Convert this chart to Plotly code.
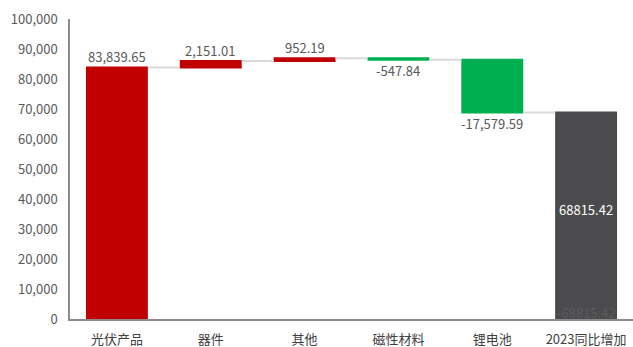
import plotly.graph_objects as go

categories = ["光伏产品", "器件", "其他", "磁性材料", "锂电池", "2023同比增加"]
values = [83839.65, 2151.01, 952.19, -547.84, -17579.59, 68815.42]
measures = ["relative", "relative", "relative", "relative", "relative", "total"]
y_ticks = [0, 10000, 20000, 30000, 40000, 50000, 60000, 70000, 80000, 90000, 100000]

RED = "#C00000"
GREEN = "#00B050"
DARK = "#4B4B4D"
FONT = "Noto Sans CJK SC, Noto Sans, sans-serif"

total_label = f"{values[-1]:.2f}"

fig = go.Figure(
    go.Waterfall(
        x=categories,
        y=values,
        measure=measures,
        textposition="none",
        increasing=dict(marker=dict(color=RED)),
        decreasing=dict(marker=dict(color=GREEN)),
        totals=dict(marker=dict(color=DARK)),
        connector=dict(line=dict(color="#D9D9D9", width=2)),
        width=0.66,
        hoverinfo="skip",
    )
)

# value labels at the running end of each step bar
running = 0.0
for cat, val, meas in zip(categories, values, measures):
    if meas != "relative":
        continue
    running += val
    up = val >= 0
    fig.add_annotation(
        x=cat, y=running, showarrow=False,
        yanchor="bottom" if up else "top",
        yshift=-1 if up else 1,
        text=f"{val:,.2f}",
        font=dict(family=FONT, size=13, color="#595959"),
    )

# total value label inside the total bar
fig.add_annotation(
    x=categories[-1], y=values[-1] / 2, yshift=6, showarrow=False,
    text=total_label, font=dict(family=FONT, size=13, color="#FFFFFF"),
)

# faint duplicate value label sitting at the base of the total bar
fig.add_annotation(
    x=categories[-1], y=0, yanchor="bottom", yshift=-5,
    text=f"-{total_label}", showarrow=False,
    font=dict(family=FONT, size=13, color="#5C5C5E"),
)

fig.update_layout(
    width=633, height=347,
    margin=dict(l=70, r=0, t=19, b=28),
    paper_bgcolor="white", plot_bgcolor="white",
    showlegend=False,
    font=dict(family=FONT, color="#595959"),
    xaxis=dict(
        showline=True, linecolor="#8C8C8C", linewidth=1.5,
        showgrid=False, ticks="", tickfont=dict(family=FONT, size=13, color="#404040"),
        ticklabelstandoff=8,
    ),
    yaxis=dict(
        range=[0, 100000], tickvals=y_ticks, tickformat=",d",
        showline=True, linecolor="#8C8C8C", linewidth=1.5,
        showgrid=False, zeroline=False, ticks="",
        tickfont=dict(family=FONT, size=13, color="#595959"),
        ticklabelstandoff=8,
    ),
)

fig.write_html("out.html")
